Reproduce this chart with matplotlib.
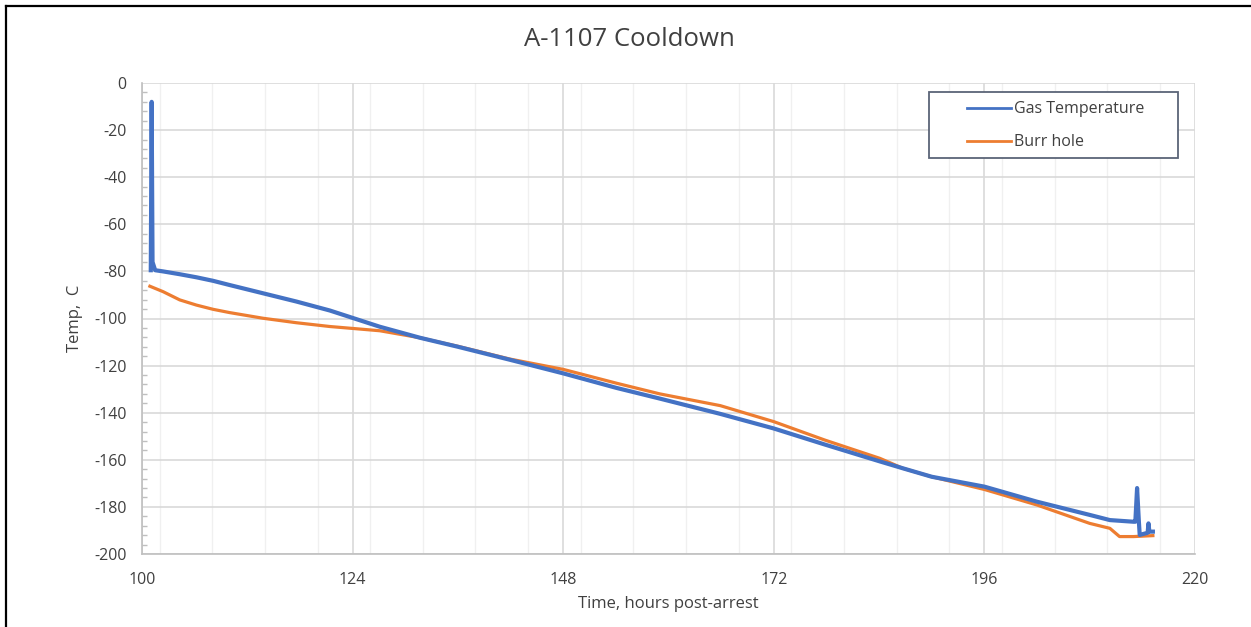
import matplotlib.pyplot as plt
from matplotlib.lines import Line2D
from matplotlib.patches import Rectangle
from matplotlib.ticker import MultipleLocator

# Gas temperature readings (hours post-arrest, deg C)
gas_hours = [101.0, 101.1, 101.2, 101.5, 102.4, 104.3, 106.2, 108.1, 110.0,
             113.8, 117.6, 121.4, 127.1, 131.7, 136.0, 141.9, 148.0, 154.1,
             159.0, 165.9, 172.0, 177.8, 184.1, 186.7, 190.0, 196.0, 202.0,
             208.0, 210.3, 213.0, 213.2, 213.4, 213.6, 213.7, 214.6, 214.7,
             214.8, 215.2]
gas_temp = [-79.5, -8.0, -76.0, -79.5, -80.0, -81.2, -82.5, -84.0, -85.8,
            -89.3, -92.8, -96.6, -103.5, -108.2, -112.0, -117.5, -123.3, -129.5,
            -134.0, -140.5, -146.7, -153.5, -160.7, -163.6, -167.2, -171.4, -177.8,
            -183.4, -185.6, -186.3, -186.3, -172.0, -186.0, -191.9, -191.0, -187.0,
            -190.5, -190.5]

# Burr hole readings
burr_hours = [100.9, 102.4, 104.3, 106.2, 108.1, 110.0, 113.8, 117.6, 121.4,
              127.1, 131.7, 136.0, 141.9, 148.0, 154.1, 159.0, 165.9, 172.0,
              177.8, 184.1, 186.7, 190.0, 196.0, 202.0, 208.0, 210.3, 211.4,
              213.0, 215.2]
burr_temp = [-86.3, -88.6, -92.1, -94.3, -96.1, -97.5, -99.9, -101.8, -103.4,
             -105.2, -108.2, -111.8, -117.2, -121.6, -127.5, -132.0, -137.0, -143.8,
             -151.6, -159.4, -163.6, -167.2, -172.6, -179.2, -187.0, -189.1, -192.6,
             -192.6, -192.2]

x_ticks = [100, 124, 148, 172, 196, 220]
y_ticks = [0, -20, -40, -60, -80, -100, -120, -140, -160, -180, -200]

BLUE = '#4472C4'
ORANGE = '#ED7D31'

plt.rcParams['font.family'] = ['Open Sans', 'DejaVu Sans']
plt.rcParams['axes.unicode_minus'] = False

W, H = 1251, 627
fig = plt.figure(figsize=(W / 100, H / 100), dpi=100)
ax = fig.add_axes([142 / W, 1 - 554 / H, (1195 - 142) / W, (554 - 83) / H])

ax.plot(burr_hours, burr_temp, color=ORANGE, lw=2.3, zorder=3)
ax.plot(gas_hours, gas_temp, color=BLUE, lw=3.0, zorder=4)

ax.set_xlim(100, 220)
ax.set_ylim(-200, 0)
ax.set_xticks(x_ticks)
ax.set_yticks(y_ticks)
ax.xaxis.set_minor_locator(MultipleLocator(6))
ax.yaxis.set_minor_locator(MultipleLocator(4))

ax.grid(True, which='major', axis='both', color='#d9d9d9', lw=1.2, zorder=0)
ax.grid(True, which='minor', axis='x', color='#f0f0f0', lw=1.0, zorder=0)
ax.set_axisbelow(True)

for side in ['top', 'right']:
    ax.spines[side].set_visible(False)
for side in ['left', 'bottom']:
    ax.spines[side].set_color('#bfbfbf')
    ax.spines[side].set_linewidth(1.2)

ax.tick_params(axis='both', which='major', length=0, labelsize=11.5, colors='#404040')
ax.tick_params(axis='x', which='major', pad=13)
ax.tick_params(axis='y', which='major', pad=11)
ax.tick_params(axis='x', which='minor', length=0)
ax.tick_params(axis='y', which='minor', direction='in', length=3.5, width=1, color='#bfbfbf')

ax.set_xlabel('Time, hours post-arrest', fontsize=12, color='#404040', labelpad=6)
ax.set_ylabel('Temp,  C', fontsize=12, color='#404040', labelpad=8)

fig.text(629 / W, 1 - 40 / H, 'A-1107 Cooldown', fontsize=18.5, color='#404040',
         ha='center', va='center')

# legend box drawn separately to match the wide Excel frame
fig.patches.append(Rectangle((929 / W, 1 - 158 / H), (1178 - 929) / W, (158 - 92) / H,
                             transform=fig.transFigure, facecolor='white',
                             edgecolor='#5b6477', lw=1.3, zorder=5))
handles = [Line2D([], [], color=BLUE, lw=2.0), Line2D([], [], color=ORANGE, lw=2.0)]
leg = fig.legend(handles, ['Gas Temperature', 'Burr hole'], loc='upper left',
                 bbox_to_anchor=(953 / W, 1 - 87 / H), frameon=False, fontsize=11.5,
                 handlelength=2.7, handletextpad=0.2, labelspacing=1.05)
leg.set_zorder(6)
for t in leg.get_texts():
    t.set_color('#404040')

# outer chart border (top and left)
fig.add_artist(Line2D([6 / W, 1], [1 - 6 / H, 1 - 6 / H], transform=fig.transFigure,
                      color='black', lw=1.6))
fig.add_artist(Line2D([6 / W, 6 / W], [0, 1 - 6 / H], transform=fig.transFigure,
                      color='black', lw=1.6))

fig.savefig('out.png', dpi=100)
